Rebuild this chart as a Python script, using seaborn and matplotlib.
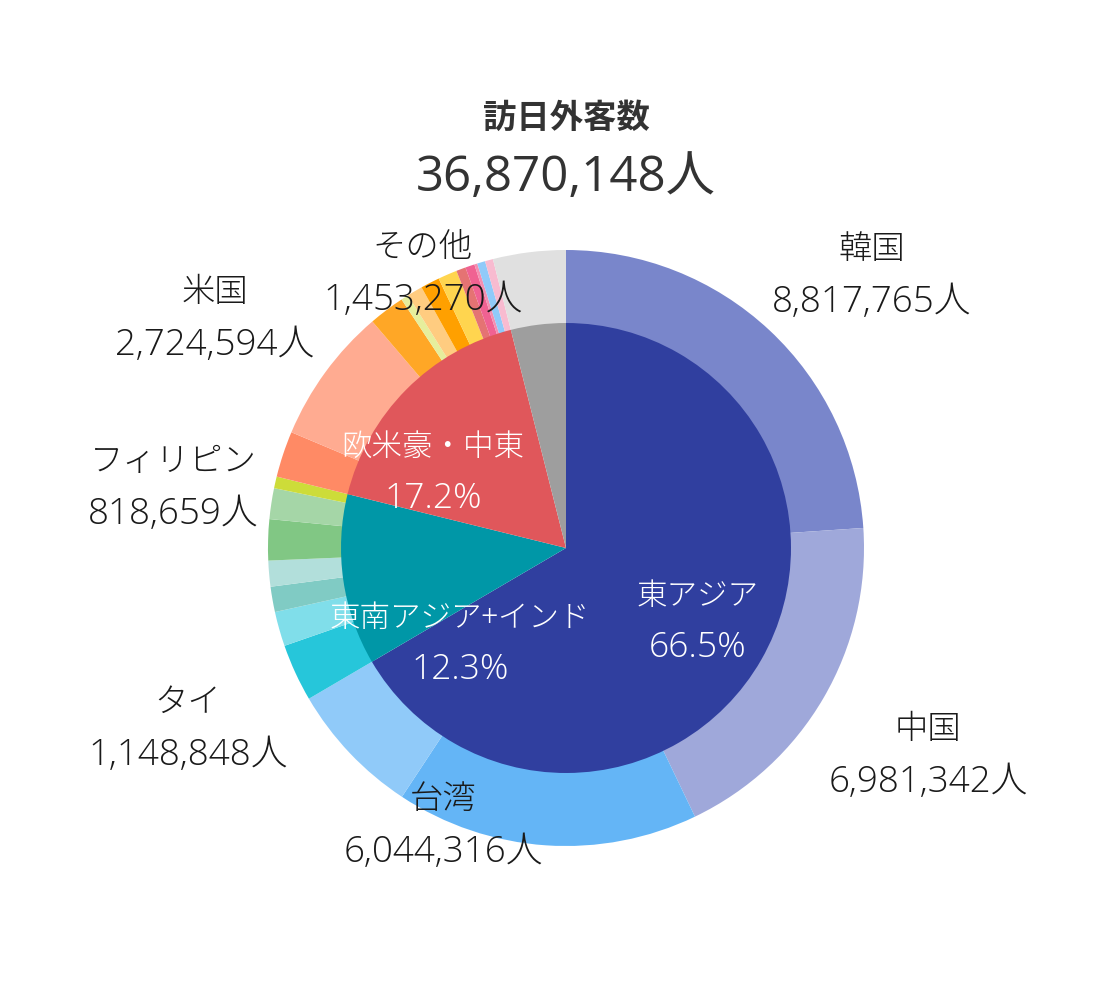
import matplotlib
matplotlib.use("Agg")
import matplotlib.pyplot as plt
import seaborn as sns
import pandas as pd

# 2024 visitor arrivals (unlabeled slices estimated from their angles)
countries = ["韓国", "中国", "台湾", "香港",
             "タイ", "シンガポール", "マレーシア", "インドネシア", "フィリピン", "ベトナム", "インド",
             "オーストラリア", "米国", "カナダ", "メキシコ", "英国", "フランス", "ドイツ",
             "イタリア", "スペイン", "ロシア", "北欧地域", "中東地域",
             "その他"]
visitors = [8817765, 6981342, 6044316, 2683372,
            1148848, 691000, 505000, 517000, 818659, 616000, 233000,
            920000, 2724594, 720000, 150000, 310000, 380000, 380000,
            190000, 185000, 60000, 160000, 160000,
            1453270]
country_region = ["東アジア"] * 4 + ["東南アジア+インド"] * 7 + ["欧米豪・中東"] * 12 + ["その他"]
country_colors = ["#7986cb", "#9fa8da", "#64b5f6", "#90caf9",
                  "#26c6da", "#80deea", "#80cbc4", "#b2dfdb", "#81c784", "#a5d6a7", "#cddc39",
                  "#ff8a65", "#ffab91", "#ffa726", "#e6ee9c", "#ffcc80", "#ffa000", "#ffd54f",
                  "#e57373", "#f06292", "#f48fb1", "#90caf9", "#f8bbd0",
                  "#e0e0e0"]

regions = ["東アジア", "東南アジア+インド", "欧米豪・中東", "その他"]
region_colors = ["#303f9f", "#0097a7", "#e0575b", "#9e9e9e"]
region_share = ["66.5%", "12.3%", "17.2%"]

total_text = "36,870,148人"

df = pd.DataFrame({"country": countries, "visitors": visitors,
                   "region": country_region, "color": country_colors})
region_totals = df.groupby("region", sort=False)["visitors"].sum().reindex(regions)

sns.set_theme(style="white")
plt.rcParams['font.family'] = ['Noto Sans CJK JP', 'DejaVu Sans']
num_font = ['Open Sans', 'Noto Sans CJK JP', 'DejaVu Sans']

fig = plt.figure(figsize=(11, 10), dpi=100)
ax = fig.add_axes([119 / 1100, 5 / 1000, 894 / 1100, 894 / 1000])

# outer ring: countries
ax.pie(df["visitors"], colors=df["color"], radius=1.0, startangle=90, counterclock=False,
       wedgeprops=dict(width=0.26, linewidth=0))
# inner pie: regions
ax.pie(region_totals.values, colors=region_colors, radius=0.755, startangle=90, counterclock=False,
       wedgeprops=dict(linewidth=0))
ax.set_xlim(-1.5, 1.5)
ax.set_ylim(-1.5, 1.5)
ax.set_aspect("equal")
ax.axis("off")

# country labels
label_pos = {
    "韓国": (1.027, 1.0),
    "中国": (1.215, -0.611),
    "台湾": (-0.413, -0.846),
    "タイ": (-1.268, -0.52),
    "フィリピン": (-1.319, 0.289),
    "米国": (-1.178, 0.856),
    "その他": (-0.48, 1.007),
}
for name, (x, y) in label_pos.items():
    val = df.loc[df["country"] == name, "visitors"].iloc[0]
    ax.text(x, y, name, ha="center", va="center", fontsize=24, color="#1a1a1a",
            fontweight="light")
    ax.text(x, y - 0.175, f"{val:,}人", ha="center", va="center", fontsize=26.5,
            color="#1a1a1a", family=num_font, fontweight="light")

# region labels inside the pie
region_pos = [(0.443, -0.161), (-0.356, -0.235), (-0.446, 0.339)]
for name, share, (x, y) in zip(regions, region_share, region_pos):
    ax.text(x, y, name, ha="center", va="center", fontsize=22, color="white",
            fontweight="light")
    ax.text(x, y - 0.175, share, ha="center", va="center", fontsize=25.5, color="white",
            family=num_font, fontweight="light")

fig.text(566 / 1100, 1 - 118 / 1000, "訪日外客数", ha="center", va="center",
         fontsize=24, fontweight="bold", color="#333333")
fig.text(566 / 1100, 1 - 178 / 1000, total_text, ha="center", va="center",
         fontsize=35.5, fontweight="normal", color="#333333", family=num_font)

fig.savefig("out.png", dpi=100, facecolor="white")
